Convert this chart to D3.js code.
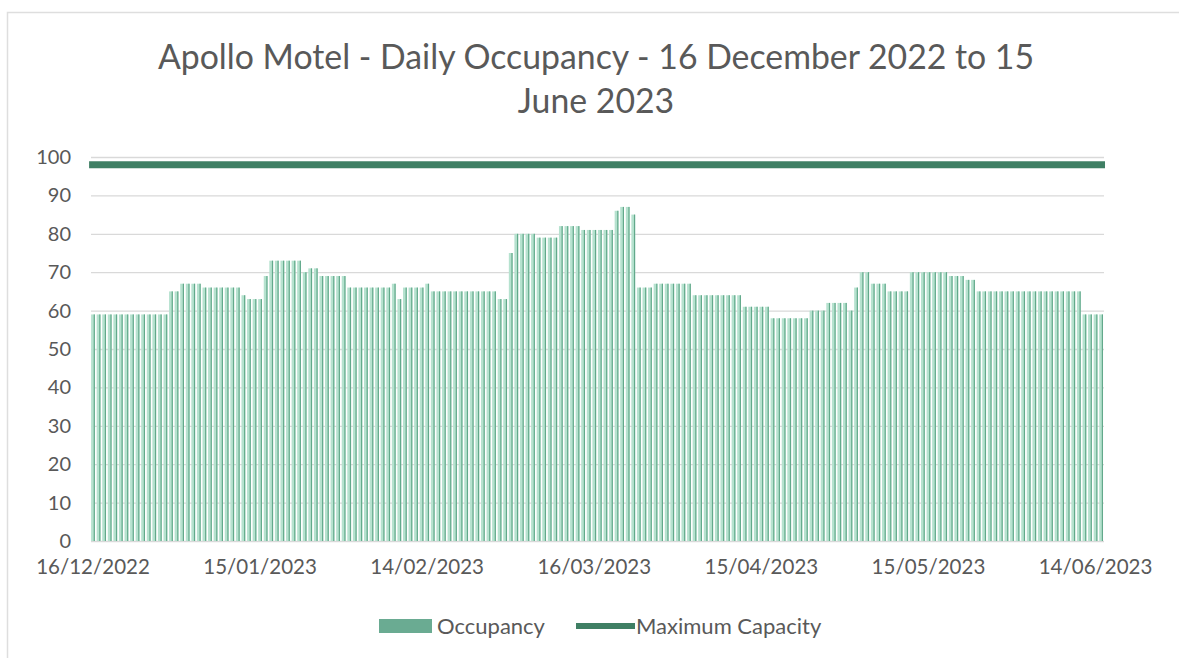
<!DOCTYPE html>
<html>
<head>
<meta charset="utf-8">
<script src="https://cdnjs.cloudflare.com/ajax/libs/d3/7.8.5/d3.min.js"></script>
<style>
  body { margin: 0; background: #fff; }
  text { font-family: Lato, "Open Sans", sans-serif; fill: #595959; }
</style>
</head>
<body>
<svg id="chart" width="1179" height="658"></svg>
<script>
// chart data
var startDate = "2022-12-16", endDate = "2023-06-16"; // one bar per day, end exclusive
var occupancy = [
  59, 59, 59, 59, 59, 59, 59, 59, 59, 59, 59, 59, 59, 59, 65, 65, 67, 67, 67, 67,
  66, 66, 66, 66, 66, 66, 66, 64, 63, 63, 63, 69, 73, 73, 73, 73, 73, 73, 70, 71,
  71, 69, 69, 69, 69, 69, 66, 66, 66, 66, 66, 66, 66, 66, 67, 63, 66, 66, 66, 66,
  67, 65, 65, 65, 65, 65, 65, 65, 65, 65, 65, 65, 65, 63, 63, 75, 80, 80, 80, 80,
  79, 79, 79, 79, 82, 82, 82, 82, 81, 81, 81, 81, 81, 81, 86, 87, 87, 85, 66, 66,
  66, 67, 67, 67, 67, 67, 67, 67, 64, 64, 64, 64, 64, 64, 64, 64, 64, 61, 61, 61,
  61, 61, 58, 58, 58, 58, 58, 58, 58, 60, 60, 60, 62, 62, 62, 62, 60, 66, 70, 70,
  67, 67, 67, 65, 65, 65, 65, 70, 70, 70, 70, 70, 70, 70, 69, 69, 69, 68, 68, 65,
  65, 65, 65, 65, 65, 65, 65, 65, 65, 65, 65, 65, 65, 65, 65, 65, 65, 65, 59, 59,
  59, 59
];
var maxCapacity = 98;
var xTickLabels = ["16/12/2022", "15/01/2023", "14/02/2023", "16/03/2023", "15/04/2023", "15/05/2023", "14/06/2023"];
var yTicks = [0, 10, 20, 30, 40, 50, 60, 70, 80, 90, 100];
var seriesNames = ["Occupancy", "Maximum Capacity"];

var parse = d3.timeParse("%Y-%m-%d");
var fmt = d3.timeFormat("%d/%m/%Y");
var days = d3.timeDay.range(parse(startDate), parse(endDate));
var data = days.map(function (d, i) { return { date: fmt(d), value: occupancy[i] }; });

var svg = d3.select("#chart");

// chart border
svg.append("rect")
  .attr("x", 7.5).attr("y", 12.5)
  .attr("width", 1180).attr("height", 660)
  .attr("fill", "none")
  .attr("stroke", "#dedede")
  .attr("stroke-width", 1.5);

// title
var title = svg.append("text")
  .attr("text-anchor", "middle")
  .style("font-size", "33.8px");
title.append("tspan").attr("x", 596).attr("y", 69)
  .text("Apollo Motel - Daily Occupancy - 16 December 2022 to 15");
title.append("tspan").attr("x", 596).attr("y", 113).text("June 2023");

// scales
var x = d3.scaleBand()
  .domain(data.map(function (d) { return d.date; }))
  .range([90.2, 1103.9])
  .paddingInner(0.32)
  .paddingOuter(0.16);

var y = d3.scaleLinear()
  .domain([0, 100])
  .range([541, 157]);

// gridlines
svg.append("g")
  .attr("transform", "translate(91,0)")
  .call(d3.axisLeft(y).tickValues(yTicks).tickSize(-1013).tickFormat(""))
  .call(function (g) { g.select(".domain").remove(); })
  .selectAll("line")
  .attr("stroke", "#d9d9d9")
  .attr("stroke-width", 1.3);

// y labels
svg.append("g")
  .attr("transform", "translate(71,0)")
  .call(d3.axisLeft(y).tickValues(yTicks).tickSize(0).tickPadding(0))
  .call(function (g) { g.select(".domain").remove(); })
  .selectAll("text")
  .style("font-size", "20px")
  .attr("fill", "#595959")
  .attr("font-family", "Lato, sans-serif");

// bars (light body with darker edge)
var bars = svg.append("g").selectAll("g")
  .data(data)
  .enter().append("g");

bars.append("rect")
  .attr("x", function (d) { return x(d.date); })
  .attr("y", function (d) { return y(d.value); })
  .attr("width", x.bandwidth())
  .attr("height", function (d) { return y(0) - y(d.value); })
  .attr("fill", "#b6e2cf");

bars.append("rect")
  .attr("x", function (d) { return x(d.date) + x.bandwidth() - 1.2; })
  .attr("y", function (d) { return y(d.value); })
  .attr("width", 1.2)
  .attr("height", function (d) { return y(0) - y(d.value); })
  .attr("fill", "#62a98b");

// maximum capacity line
svg.append("line")
  .attr("x1", x(data[0].date) - 2)
  .attr("x2", x(data[data.length - 1].date) + x.bandwidth() + 2)
  .attr("y1", y(maxCapacity))
  .attr("y2", y(maxCapacity))
  .attr("stroke", "#3f7f64")
  .attr("stroke-width", 7);

// x axis labels
svg.append("g")
  .attr("transform", "translate(0,548)")
  .call(d3.axisBottom(x)
    .tickValues(xTickLabels)
    .tickSize(0)
    .tickPadding(0))
  .call(function (g) { g.select(".domain").remove(); })
  .selectAll("text")
  .attr("dy", "1.25em")
  .style("font-size", "20.5px")
  .attr("fill", "#595959")
  .attr("font-family", "Lato, sans-serif");

// legend
var legend = svg.append("g").style("font-size", "22px");
legend.append("rect")
  .attr("x", 379).attr("y", 619)
  .attr("width", 53).attr("height", 14)
  .attr("fill", "#6aab92");
legend.append("text")
  .attr("x", 437).attr("y", 634)
  .text(seriesNames[0]);
legend.append("line")
  .attr("x1", 576).attr("x2", 635)
  .attr("y1", 626).attr("y2", 626)
  .attr("stroke", "#3f7f64")
  .attr("stroke-width", 6);
legend.append("text")
  .attr("x", 636).attr("y", 634)
  .text(seriesNames[1]);
</script>
</body>
</html>
